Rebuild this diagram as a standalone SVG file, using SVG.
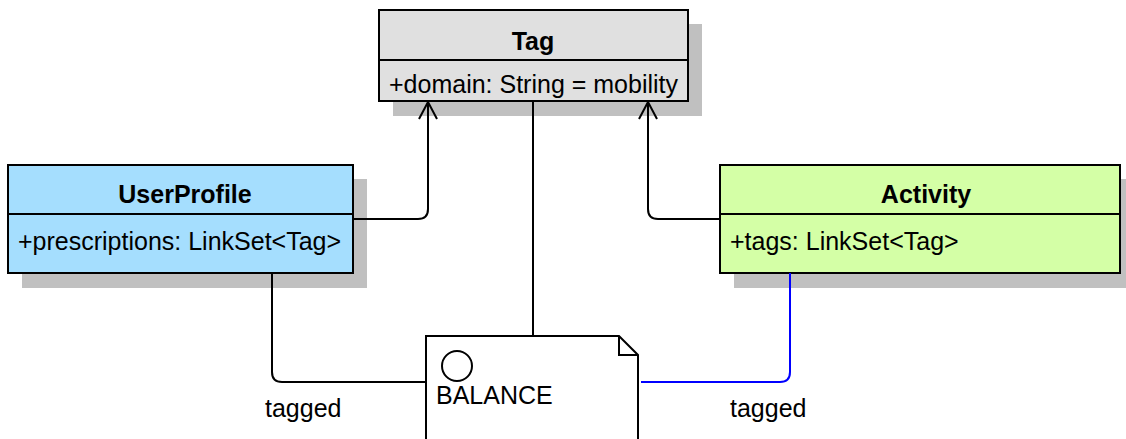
<svg xmlns="http://www.w3.org/2000/svg" width="1126" height="439" viewBox="0 0 1126 439">
  <style>
    .shadow { fill: #c0c0c0; }
    .box { stroke: #000; stroke-width: 2; }
    .title { font-family: "Liberation Sans", Arial, sans-serif; font-size: 25px; font-weight: bold; fill: #000; text-anchor: middle; }
    .attr { font-family: "Liberation Sans", Arial, sans-serif; font-size: 25px; fill: #000; }
    .edge { fill: none; stroke: #000; stroke-width: 2; }
    .blue { stroke: #0000ff; }
  </style>
  <defs>
    <marker id="open-arrow" viewBox="0 0 20 20" refX="18" refY="10" markerWidth="20" markerHeight="20" markerUnits="userSpaceOnUse" orient="auto">
      <path d="M1,1 L18,10 L1,19" fill="none" stroke="#000" stroke-width="2"/>
    </marker>
  </defs>

  <!-- Tag class -->
  <g id="tag">
    <rect class="shadow" x="393" y="24" width="309" height="92"/>
    <rect class="box" x="379" y="10" width="309" height="91" fill="#e0e0e0"/>
    <line class="box" x1="379" y1="60" x2="688" y2="60"/>
    <text class="title" x="533" y="50">Tag</text>
    <text class="attr" x="389" y="93">+domain: String = mobility</text>
  </g>

  <!-- UserProfile class -->
  <g id="userprofile">
    <rect class="shadow" x="22" y="179" width="345" height="109"/>
    <rect class="box" x="8" y="165" width="345" height="108" fill="#a5defe"/>
    <line class="box" x1="8" y1="214" x2="353" y2="214"/>
    <text class="title" x="185" y="203">UserProfile</text>
    <text class="attr" x="18" y="250">+prescriptions: LinkSet&lt;Tag&gt;</text>
  </g>

  <!-- Activity class -->
  <g id="activity">
    <rect class="shadow" x="734" y="179" width="400" height="109"/>
    <rect class="box" x="720" y="165" width="400" height="108" fill="#d4ffa6"/>
    <line class="box" x1="720" y1="214" x2="1120" y2="214"/>
    <text class="title" x="926" y="203">Activity</text>
    <text class="attr" x="730" y="250">+tags: LinkSet&lt;Tag&gt;</text>
  </g>

  <!-- BALANCE note -->
  <g id="balance">
    <path class="box" d="M426,336 H619 L638,355 V445 H426 Z" fill="#fff"/>
    <path class="box" d="M619,336 V355 H638" fill="none"/>
    <circle class="box" cx="457" cy="366" r="15" fill="none"/>
    <text class="attr" x="436" y="404">BALANCE</text>
  </g>

  <!-- connectors -->
  <g id="connectors">
    <path class="edge" d="M353,219 H418 Q428,219 428,209 V102" marker-end="url(#open-arrow)"/>
    <path class="edge" d="M720,219 H658 Q648,219 648,209 V102" marker-end="url(#open-arrow)"/>
    <path class="edge" d="M533,101 V335"/>
    <path class="edge" d="M272,273 V372 Q272,382 282,382 H426"/>
    <path class="edge blue" d="M790,273 V372 Q790,382 780,382 H641"/>
    <text class="attr" x="265" y="417">tagged</text>
    <text class="attr" x="730" y="417">tagged</text>
  </g>
</svg>
